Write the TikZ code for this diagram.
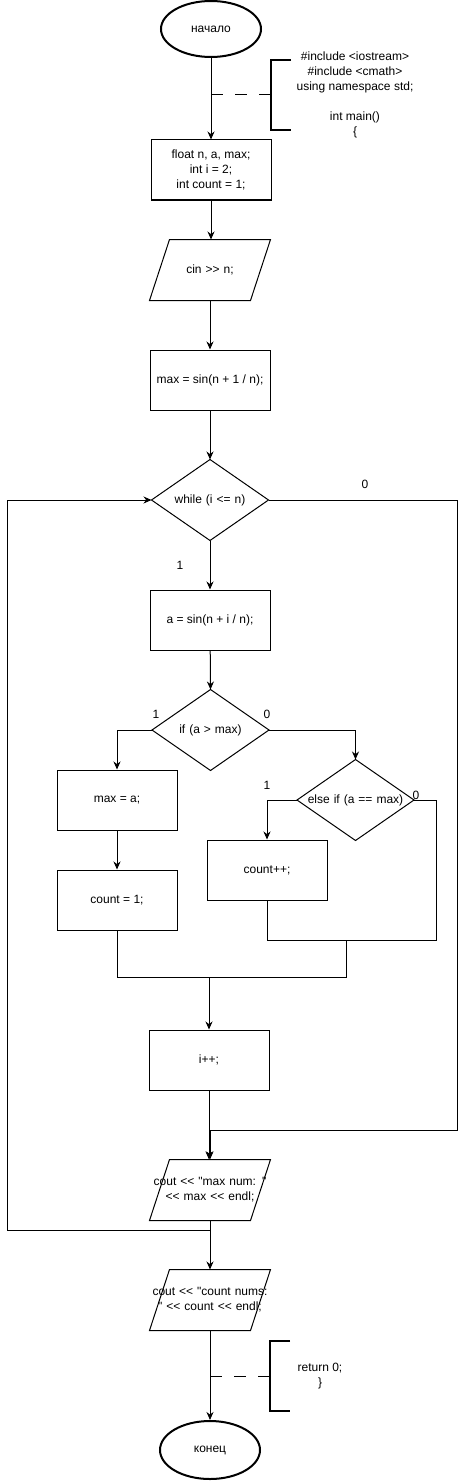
\documentclass[tikz,border=0pt]{standalone}
\usepackage{fontspec}
\newfontfamily\flowfont{Liberation Sans}
\usetikzlibrary{shapes.geometric, arrows.meta, positioning}

\begin{document}
\begin{tikzpicture}[x=1pt, y=-1pt, font=\flowfont\fontsize{12}{15}\selectfont, line width=1pt, >={Stealth[length=8pt, width=7pt]}]
    \tikzstyle{term}=[ellipse, draw, line width=2pt, minimum width=100pt, minimum height=56pt, inner sep=0pt]
    \tikzstyle{proc}=[rectangle, draw, minimum width=120pt, minimum height=60pt, align=center, inner sep=0pt]
    \tikzstyle{io}=[rectangle, minimum width=120pt, minimum height=60pt, text width=120pt, align=center, inner sep=0pt]
    \tikzstyle{cond}=[rectangle, minimum width=116pt, minimum height=80pt, text width=116pt, align=center, inner sep=0pt]
    \tikzstyle{comment}=[align=center, inner sep=0pt]
    \tikzstyle{brace}=[line width=2pt]
    \tikzstyle{note}=[dash pattern=on 12pt off 12pt]
    \tikzstyle{lbl}=[inner sep=0pt]
    \useasboundingbox (0,0) rectangle (467,1482);

    % main line
    \node[term] (start) at (211,29) {начало};
    \node[proc] (decl) at (211,170) {float n, a, max;\\int i = 2;\\int count = 1;};
    \node[io] (inp) at (210,270) {cin >> n;};
    \node[proc] (init) at (210,380) {max = sin(n + 1 / n);};
    \node[cond] (loop) at (210,500) {while (i <= n)};
    \node[proc] (abody) at (210,620) {a = sin(n + i / n);};
    \node[cond] (cmp) at (210.5,730) {if (a > max)};
    \node[proc] (setmax) at (117,800) {max = a;};
    \node[proc] (reset) at (117,900) {count = 1;};
    \node[cond] (cmpeq) at (355.5,800) {else if (a == max)};
    \node[proc] (incr) at (267,870) {count++;};
    \node[proc] (next) at (209,1060) {i++;};
    \node[io] (outmax) at (210,1190) {cout << "max num: "\\<< max << endl;};
    \node[io] (outcnt) at (210,1300) {cout << "count nums:\\" << count << endl;};
    \node[term, minimum height=58pt] (stop) at (210,1450) {конец};

    % outlines of io and decision shapes
    \foreach \n in {inp,outmax,outcnt}
        \draw ([xshift=20pt]\n.north west) -- (\n.north east) -- ([xshift=-20pt]\n.south east) -- (\n.south west) -- cycle;
    \foreach \n in {loop,cmp,cmpeq}
        \draw (\n.north) -- (\n.east) -- (\n.south) -- (\n.west) -- cycle;

    % comments
    \node[comment] (hdr) at (355,95) {\#include <iostream>\\\#include <cmath>\\using namespace std;\\[15pt]int main()\\\{};
    \node[comment] (ret) at (320,1376) {return 0;\\\}};
    \coordinate (c1) at (211,95);
    \coordinate (b1) at (271,95);
    \coordinate (c2) at (210,1376);
    \coordinate (b2) at (270,1376);
    \draw[brace] (b1) ++(20,-35) -- ++(-20,0) -- ++(0,70) -- ++(20,0);
    \draw[brace] (b2) ++(20,-35) -- ++(-20,0) -- ++(0,70) -- ++(20,0);
    \draw[note] (c1) -- (b1);
    \draw[note] (c2) -- (b2);

    % branch labels
    \node[lbl] (l1) at (365,484) {0};
    \node[lbl] (l2) at (180,565) {1};
    \node[lbl] (l3) at (156,714) {1};
    \node[lbl] (l4) at (267,714) {0};
    \node[lbl] (l5) at (267,785) {1};
    \node[lbl] (l6) at (416,795) {0};

    % connectors
    \coordinate (exitc) at (457,1130);
    \coordinate (back) at (7,1230);
    \coordinate (e1) at (436,940);
    \coordinate (j2) at (346,940);
    \coordinate (merge) at (209,977);
    \draw[->] (start) -- (decl);
    \draw[->] (decl.south) -- (decl.south |- inp.north);
    \draw[->] (inp.south) -- (init);
    \draw[->] (init) -- (loop.north);
    \draw[->] (loop.south) -- (abody);
    \draw[->] (abody) -- (cmp.north);
    \draw[->] (cmp.west) -| (setmax);
    \draw[->] (setmax) -- (reset);
    \draw[->] (cmp.east) -| (cmpeq.north);
    \draw[->] (cmpeq.west) -| (incr);
    \draw (cmpeq.east) -| (e1) -| (incr.south);
    \draw (reset.south) |- (merge);
    \draw (j2) |- (merge);
    \draw[->] (merge) -- (next);
    \draw[->] (next.south) -- (next.south |- outmax.north);
    \draw[->] (loop.east) -| (exitc) -| (outmax.north);
    \draw[->] (outmax.south) |- (back) |- (loop.west);
    \draw[->] (outmax.south) -- (outcnt.north);
    \draw[->] (outcnt.south) -- (stop);
\end{tikzpicture}
\end{document}
